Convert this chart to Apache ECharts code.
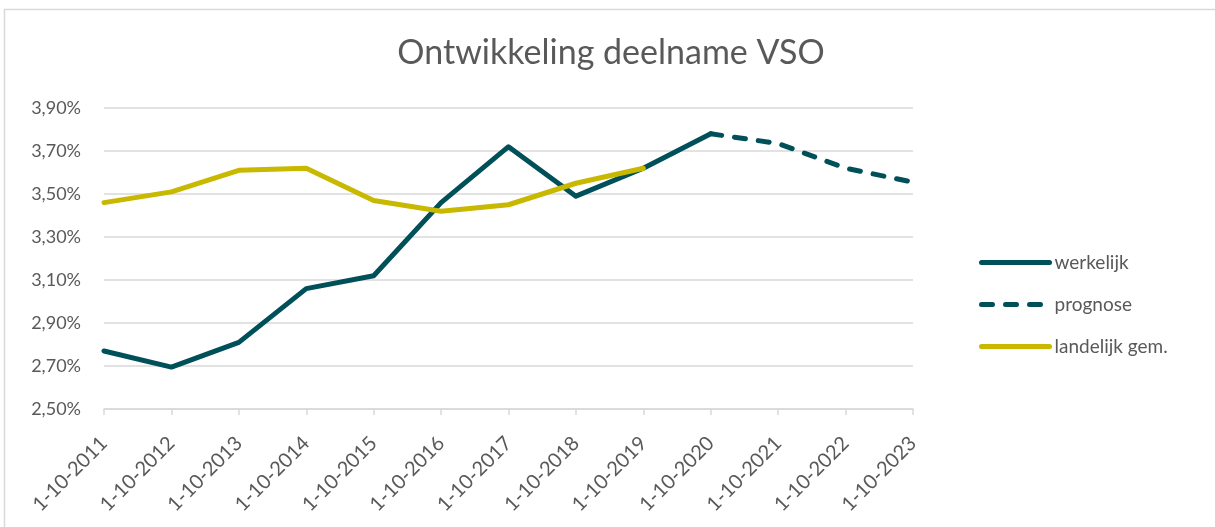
<!DOCTYPE html>
<html>
<head>
<meta charset="utf-8">
<script src="https://cdn.jsdelivr.net/npm/echarts@6/dist/echarts.min.js"></script>
<style>
html, body { margin: 0; padding: 0; background: #fff; }
#main { width: 1215px; height: 527px; }
</style>
</head>
<body>
<div id="main"></div>
<script>
var categories = ['1-10-2011', '1-10-2012', '1-10-2013', '1-10-2014', '1-10-2015', '1-10-2016', '1-10-2017',
    '1-10-2018', '1-10-2019', '1-10-2020', '1-10-2021', '1-10-2022', '1-10-2023'];
// percentages
var werkelijk = [2.77, 2.695, 2.81, 3.06, 3.12, 3.46, 3.72, 3.49, 3.62, 3.78, null, null, null];
var prognose = [null, null, null, null, null, null, null, null, null, 3.78, 3.735, 3.62, 3.555];
var landelijk = [3.46, 3.51, 3.61, 3.62, 3.47, 3.42, 3.45, 3.55, 3.62, null, null, null, null];

var FONT = 'Lato';
var GREY = '#595959';
var TEAL = '#00505a';
var YELLOW = '#c8b900';

var myChart = echarts.init(document.getElementById('main'));

var option = {
    animation: false,
    backgroundColor: '#fff',
    textStyle: { fontFamily: FONT },
    graphic: [{
        type: 'rect',
        shape: { x: 4.5, y: 9.5, width: 1300, height: 530 },
        style: { fill: 'none', stroke: '#d9d9d9', lineWidth: 1.5 },
        silent: true
    }],
    title: {
        text: 'Ontwikkeling deelname VSO',
        left: 606,
        textAlign: 'center',
        top: 31,
        textStyle: { fontFamily: FONT, fontSize: 34, fontWeight: 'normal', color: GREY }
    },
    legend: {
        orient: 'vertical',
        left: 974,
        top: 248,
        itemWidth: 68,
        itemHeight: 14,
        itemGap: 23,
        itemStyle: { opacity: 0 },
        lineStyle: { width: 5, cap: 'round' },
        textStyle: { fontFamily: FONT, fontSize: 19, color: GREY },
        data: ['werkelijk', 'prognose', 'landelijk gem.']
    },
    grid: { left: 104, right: 302, top: 108, bottom: 118 },
    xAxis: {
        type: 'category',
        data: categories,
        boundaryGap: false,
        axisLine: { lineStyle: { color: '#d9d9d9', width: 1.5 } },
        axisTick: { show: true, length: 6, lineStyle: { color: '#d9d9d9', width: 1.5 } },
        axisLabel: { rotate: 45, margin: 31, fontFamily: FONT, fontSize: 20, color: GREY, interval: 0 }
    },
    yAxis: {
        type: 'value',
        min: 2.5,
        max: 3.9,
        interval: 0.2,
        axisLine: { show: false },
        axisTick: { show: false },
        splitLine: { lineStyle: { color: '#d9d9d9', width: 1.5 } },
        axisLabel: {
            margin: 23,
            fontFamily: FONT,
            fontSize: 18,
            color: GREY,
            formatter: function (v) { return v.toFixed(2).replace('.', ',') + '%'; }
        }
    },
    series: [
        {
            name: 'werkelijk',
            type: 'line',
            data: werkelijk,
            symbol: 'none',
            color: TEAL,
            lineStyle: { color: TEAL, width: 5, cap: 'round', join: 'round' }
        },
        {
            name: 'prognose',
            type: 'line',
            data: prognose,
            symbol: 'none',
            color: TEAL,
            lineStyle: { color: TEAL, width: 5, type: [11, 13], cap: 'round', join: 'round' }
        },
        {
            name: 'landelijk gem.',
            type: 'line',
            data: landelijk,
            symbol: 'none',
            color: YELLOW,
            lineStyle: { color: YELLOW, width: 5, cap: 'round', join: 'round' }
        }
    ]
};

myChart.setOption(option);
</script>
</body>
</html>
